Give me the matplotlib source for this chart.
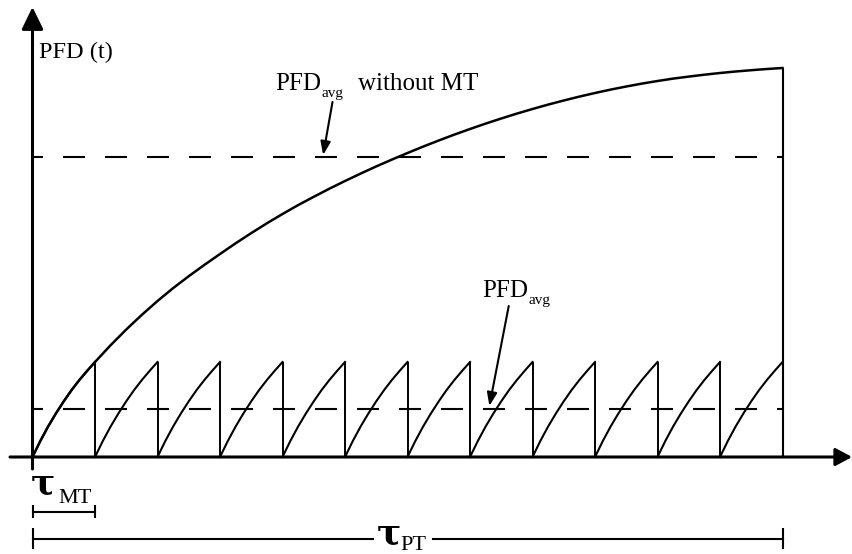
import matplotlib.pyplot as plt
import numpy as np

# PFD(t) (time in units of tau_MT, PFD in arbitrary units)
curve_t = [0, 0.125, 0.25, 0.375, 0.5, 0.625, 0.75, 0.875,
           1.0, 1.25, 1.5, 1.75, 2.0, 2.25, 2.5, 2.75, 3.0, 3.25, 3.5, 3.75,
           4.0, 4.25, 4.5, 4.75, 5.0, 5.25, 5.5, 5.75, 6.0, 6.25, 6.5, 6.75,
           7.0, 7.25, 7.5, 7.75, 8.0, 8.25, 8.5, 8.75, 9.0, 9.25, 9.5, 9.75,
           10.0, 10.25, 10.5, 10.75, 11.0, 11.25, 11.5, 11.75, 12.0]
curve_pfd = [0, 0.160, 0.305, 0.436, 0.557, 0.669, 0.770, 0.862,
             0.950, 1.118, 1.275, 1.422, 1.560, 1.689, 1.808, 1.921,
             2.030, 2.137, 2.239, 2.337, 2.430, 2.519, 2.602, 2.683,
             2.760, 2.834, 2.906, 2.974, 3.040, 3.104, 3.165, 3.224,
             3.280, 3.334, 3.385, 3.434, 3.480, 3.524, 3.565, 3.604,
             3.640, 3.674, 3.705, 3.734, 3.760, 3.784, 3.804, 3.823,
             3.840, 3.855, 3.868, 3.880, 3.890]

n_intervals = 12          # tau_PT / tau_MT
pfd_avg_no_mt = 3.00
pfd_avg_mt = 0.48

serif = ['Liberation Serif', 'DejaVu Serif']
greek = ['DejaVu Serif']

fig = plt.figure(figsize=(8.52, 5.54), dpi=100)
ax = fig.add_axes([0, 0, 1, 1])
ax.set_xlim(-0.52, 13.112)
ax.set_ylim(-0.97, 4.57)
ax.axis('off')

# curve without maintenance test
ax.plot(curve_t, curve_pfd, color='black', lw=1.8)

# sawtooth with maintenance tests
t = np.array(curve_t)
p = np.array(curve_pfd)
tooth_t, tooth_p = t[t <= 1], p[t <= 1]
for k in range(n_intervals):
    ax.plot(k + tooth_t, tooth_p, color='black', lw=1.5)
ax.vlines(np.arange(1, n_intervals), 0, tooth_p[-1], color='black', lw=1.4)
ax.vlines(n_intervals, 0, curve_pfd[-1], color='black', lw=1.5)

# average lines
dash = (5.76, (10.56, 9.6))
ax.plot([0, n_intervals], [pfd_avg_no_mt] * 2, color='black', lw=1.5, linestyle=dash)
ax.plot([0, n_intervals], [pfd_avg_mt] * 2, color='black', lw=1.5, linestyle=dash)

# axes with arrows
ax.annotate('', xy=(0, 4.50), xytext=(0, -0.12),
            arrowprops=dict(arrowstyle='-|>,head_length=0.68,head_width=0.33',
                            mutation_scale=20, lw=2.2, color='black',
                            shrinkA=0, shrinkB=0))
ax.annotate('', xy=(13.112, 0), xytext=(-0.36, 0),
            arrowprops=dict(arrowstyle='-|>,head_length=0.5,head_width=0.27',
                            mutation_scale=20, lw=2.2, color='black',
                            shrinkA=0, shrinkB=0))

ax.text(0.10, 4.05, 'PFD (t)', family=serif, fontsize=17.5, ha='left', va='center')

# upper label
ax.text(3.88, 3.67, 'PFD', family=serif, fontsize=18, ha='left', va='baseline')
ax.text(4.62, 3.60, 'avg', family=serif, fontsize=11, ha='left', va='baseline')
ax.text(5.21, 3.67, 'without MT', family=serif, fontsize=18, ha='left', va='baseline')
ax.annotate('', xy=(4.65, 3.02), xytext=(4.80, 3.55),
            arrowprops=dict(arrowstyle='-|>,head_length=0.8,head_width=0.3',
                            mutation_scale=10, lw=1.5, color='black',
                            shrinkA=0, shrinkB=0))

# lower label
ax.text(7.19, 1.60, 'PFD', family=serif, fontsize=18, ha='left', va='baseline')
ax.text(7.93, 1.53, 'avg', family=serif, fontsize=11, ha='left', va='baseline')
ax.annotate('', xy=(7.31, 0.51), xytext=(7.62, 1.51),
            arrowprops=dict(arrowstyle='-|>,head_length=0.8,head_width=0.3',
                            mutation_scale=10, lw=1.5, color='black',
                            shrinkA=0, shrinkB=0))

# tau_MT bracket
ax.text(-0.02, -0.36, 'τ', family=greek, fontsize=26, weight='bold',
        ha='left', va='baseline')
ax.text(0.41, -0.46, 'MT', family=serif, fontsize=16, ha='left', va='baseline')
ax.plot([0, 1], [-0.547, -0.547], color='black', lw=1.5)
ax.vlines([0, 1], -0.61, -0.48, color='black', lw=1.5)

# tau_PT bracket
ax.plot([0, 5.45], [-0.82, -0.82], color='black', lw=1.5)
ax.plot([6.41, n_intervals], [-0.82, -0.82], color='black', lw=1.5)
ax.vlines([0, n_intervals], -0.92, -0.71, color='black', lw=1.5)
ax.text(5.50, -0.86, 'τ', family=greek, fontsize=26, weight='bold',
        ha='left', va='baseline')
ax.text(5.89, -0.93, 'PT', family=serif, fontsize=16, ha='left', va='baseline')

fig.savefig('out.png', dpi=100)
